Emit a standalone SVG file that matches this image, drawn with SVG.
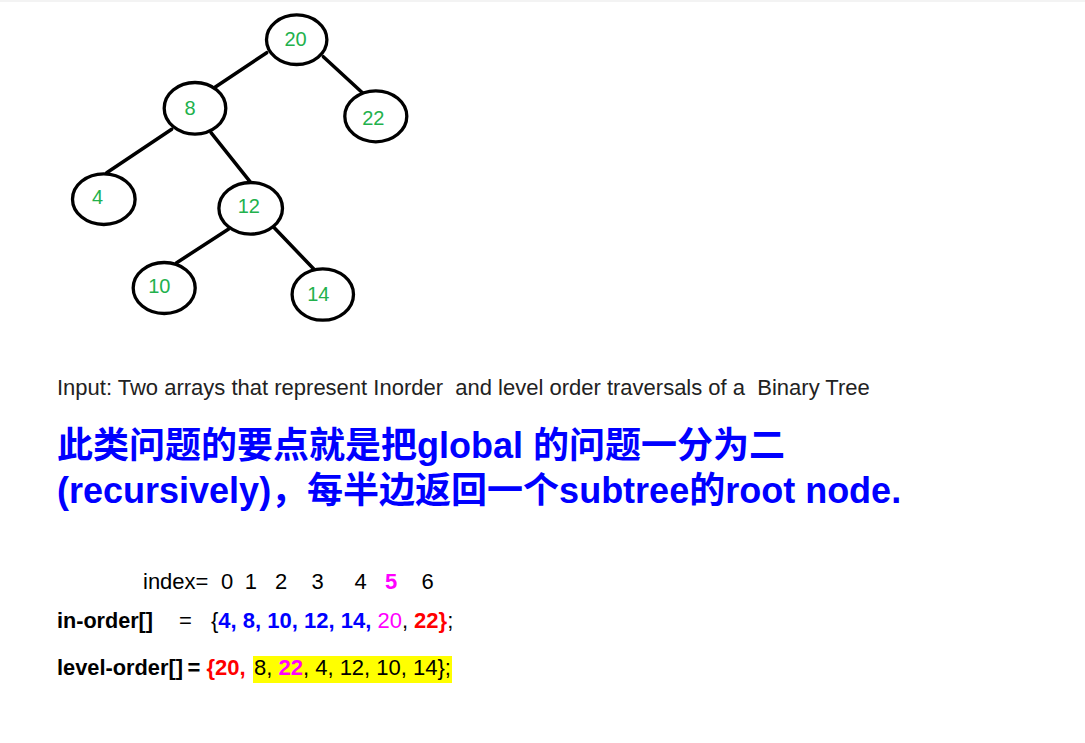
<svg xmlns="http://www.w3.org/2000/svg" width="1085" height="743" viewBox="0 0 1085 743">
<style>
.node ellipse{fill:#fff;stroke:#000;stroke-width:3.3}
.node text{font-family:"Liberation Sans",Arial,sans-serif;font-size:20px;fill:#22b14c;text-anchor:middle}
#edges line{stroke:#000;stroke-width:3.5;stroke-linecap:round}
.t{font-family:"Liberation Sans",Arial,sans-serif;font-size:22px;fill:#222;white-space:pre}
.h{font-family:"Liberation Sans","Noto Sans CJK SC",sans-serif;font-size:36px;font-weight:bold;fill:#0000ff;white-space:pre}
.b{font-weight:bold}
.blue{fill:#0000ff}
.red{fill:#ff0000}
.mag{fill:#ff00ff}
.blk{fill:#000}
</style>
<rect x="0" y="0" width="1085" height="743" fill="#fff"/>
<rect x="0" y="0" width="1085" height="2" fill="#f3f3f3"/>
<g id="edges">
<line x1="266.7" y1="52.7" x2="215" y2="87.3"/>
<line x1="323.3" y1="56.7" x2="367.3" y2="97.3"/>
<line x1="171.7" y1="129.3" x2="106.7" y2="172.7"/>
<line x1="211" y1="132.7" x2="250" y2="181.7"/>
<line x1="228.3" y1="229.3" x2="176.7" y2="262.7"/>
<line x1="273.3" y1="226.7" x2="314" y2="269.3"/>
</g>
<g id="n20" class="node"><ellipse cx="296.7" cy="39.7" rx="30.2" ry="24.8"/><text x="295.5" y="46">20</text></g>
<g id="n8" class="node"><ellipse cx="195" cy="108.3" rx="30.8" ry="25.8"/><text x="190" y="115">8</text></g>
<g id="n22" class="node"><ellipse cx="375.8" cy="116.3" rx="31" ry="25.5"/><text x="373.3" y="125.3">22</text></g>
<g id="n4" class="node"><ellipse cx="103.8" cy="199.2" rx="31.3" ry="25.3"/><text x="97.5" y="204">4</text></g>
<g id="n12" class="node"><ellipse cx="250.7" cy="208.3" rx="31.8" ry="25.8"/><text x="248.8" y="213.3">12</text></g>
<g id="n10" class="node"><ellipse cx="164.2" cy="288" rx="31" ry="25.5"/><text x="159.3" y="293.3">10</text></g>
<g id="n14" class="node"><ellipse cx="322.8" cy="294.5" rx="30.7" ry="25.7"/><text x="318.3" y="301">14</text></g>
<text class="t" x="57" y="394.5">Input: Two arrays that represent Inorder  and level order traversals of a  Binary Tree</text>
<text class="h" x="57" y="458">此类问题的要点就是把global 的问题一分为二</text>
<text class="h" x="57" y="503">(recursively)，每半边返回一个subtree的root node.</text>
<g id="index">
<text class="t blk" x="143" y="589">index=</text>
<text class="t blk" text-anchor="middle" y="589"><tspan x="227">0</tspan><tspan x="250.8">1</tspan><tspan x="281">2</tspan><tspan x="317.5">3</tspan><tspan x="360.5">4</tspan><tspan x="391" class="b mag">5</tspan><tspan x="427.5">6</tspan></text>
</g>
<text class="t blk" y="627.5"><tspan x="57" class="b" textLength="96" lengthAdjust="spacingAndGlyphs">in-order[]</tspan><tspan x="179">=</tspan><tspan x="211">{</tspan><tspan class="b blue">4, 8, 10, 12, 14,</tspan> <tspan class="mag">20</tspan>, <tspan class="b red">22}</tspan>;</text>
<rect x="253" y="656" width="199" height="27" fill="#ffff00"/>
<text class="t blk" y="675"><tspan x="57" class="b" textLength="126" lengthAdjust="spacingAndGlyphs">level-order[]</tspan><tspan x="187.5" class="b">=</tspan><tspan x="206.5" class="b red">{20,</tspan><tspan x="254">8, </tspan><tspan class="b mag">22</tspan>, 4, 12, 10, 14};</text>
</svg>
